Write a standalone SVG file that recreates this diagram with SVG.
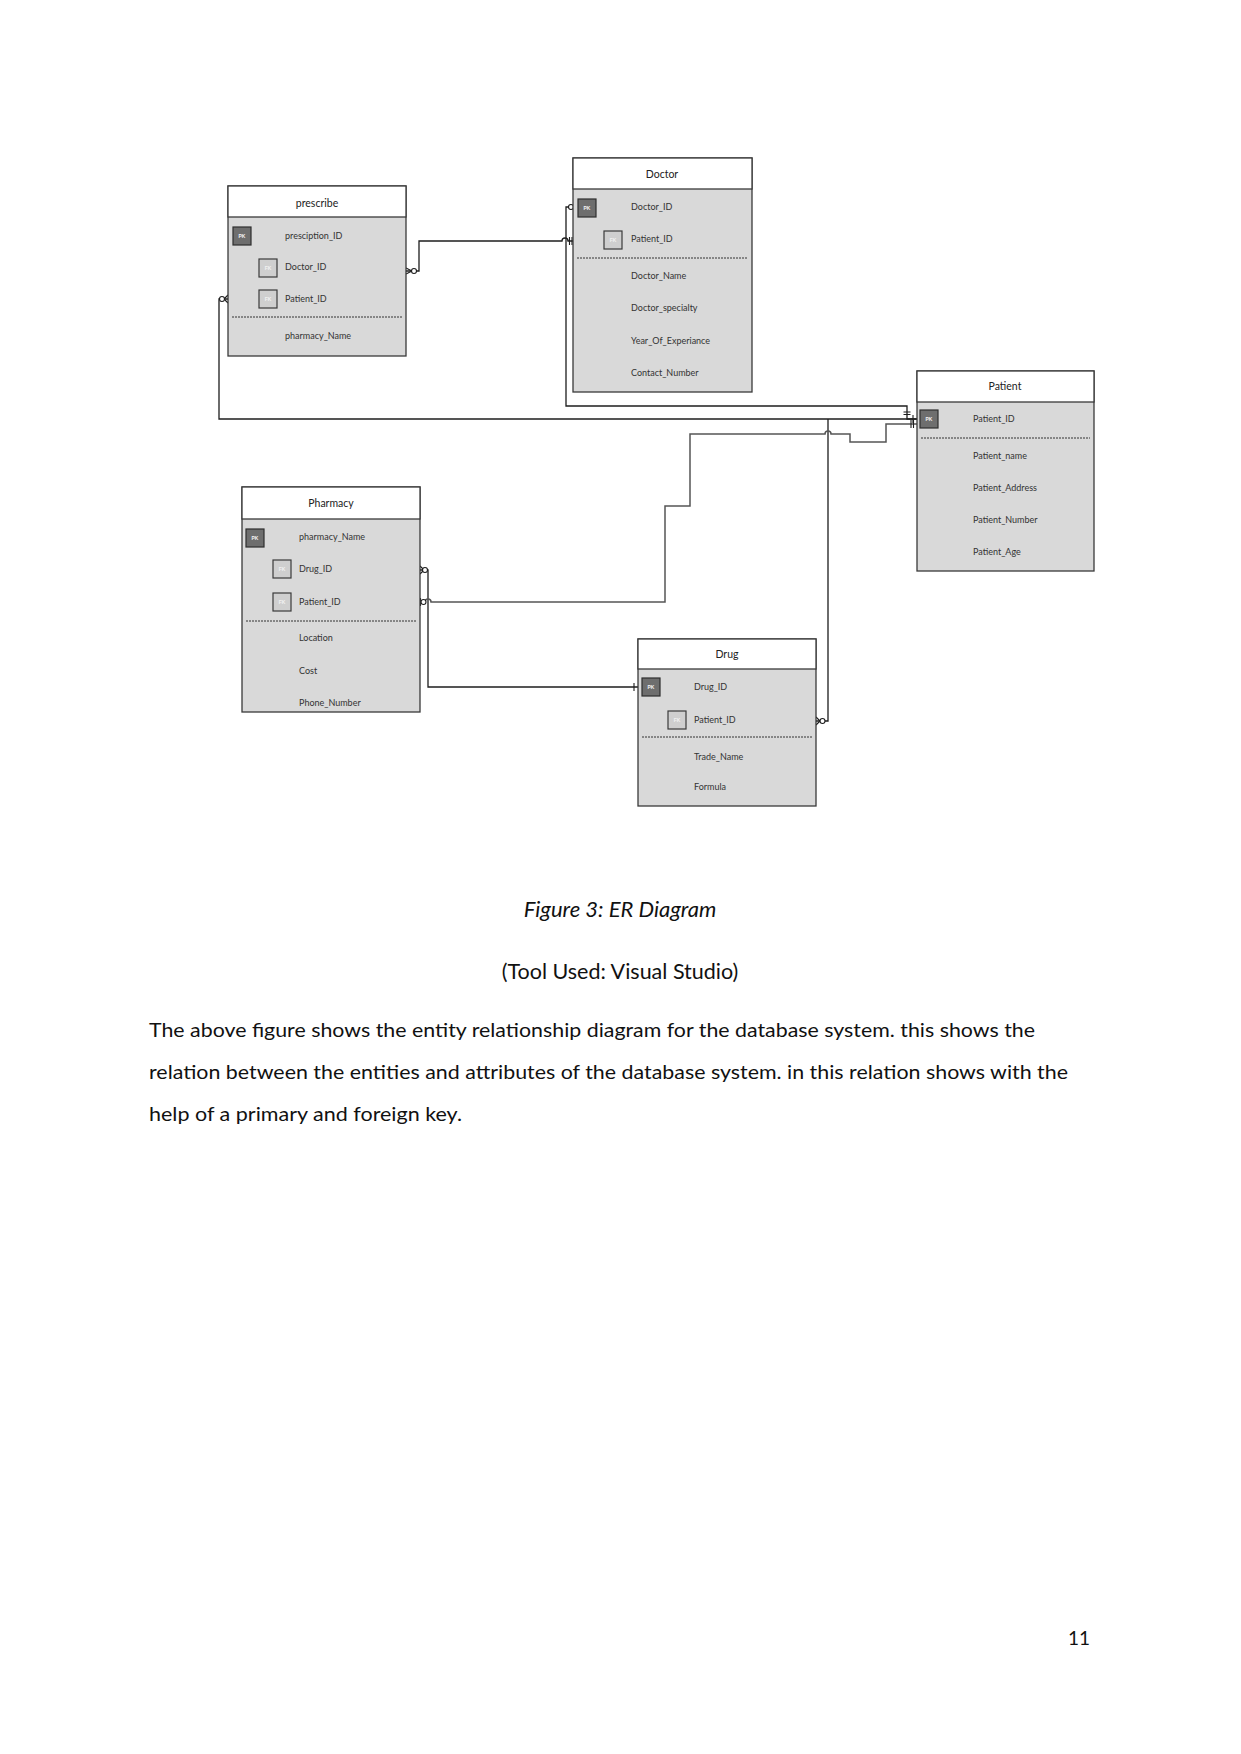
<svg xmlns="http://www.w3.org/2000/svg" width="1241" height="1754" viewBox="0 0 1241 1754">
<style>
.body{fill:#d9d9d9;stroke:#3a3a3a;stroke-width:1.3}
.head{fill:#ffffff;stroke:#3a3a3a;stroke-width:1.3}
.title{font-family:Lato,"Liberation Sans",sans-serif;font-size:10.5px;fill:#222;text-anchor:middle}
.attr{font-family:Lato,"Liberation Sans",sans-serif;font-size:9px;fill:#333}
.pk{fill:#6e6e6e;stroke:#2e2e2e;stroke-width:1.2}
.fk{fill:#cfcfcf;stroke:#3a3a3a;stroke-width:1.2}
.ic{font-family:"Liberation Sans",sans-serif;font-size:5px;fill:#f2f2f2;text-anchor:middle;font-weight:bold}
.dash{stroke:#333;stroke-width:1;stroke-dasharray:2,1}
.ln{fill:none;stroke:#1e1e1e;stroke-width:1.3}
.lg{fill:none;stroke:#555;stroke-width:1.5}
.mk{fill:none;stroke:#1e1e1e;stroke-width:1.1}
.circ{fill:#fff;stroke:#1e1e1e;stroke-width:1.1}
.txt{font-family:Lato,"Liberation Sans",sans-serif;fill:#111}
</style>
<rect width="1241" height="1754" fill="#fff"/>

<g id="connectors">
  <!-- prescribe.Doctor_ID -> Doctor.Patient_ID -->
  <path class="ln" d="M406,271 H419 V241 H562 A3,3 0 0 1 568,241 H573"/>
  <path class="mk" d="M412,271 L406,268 M412,271 L406,274"/>
  <circle class="circ" cx="414" cy="271" r="2.5"/>
  <path class="mk" d="M569.5,237 V245 M572,237 V245"/>
  <!-- Doctor.Doctor_ID -> Patient.Patient_ID -->
  <path class="ln" d="M578,207 H566 V406 H907 V419 H917"/>
  <circle class="circ" cx="571" cy="207" r="2.5"/>
  <path class="mk" d="M903.5,412 H910.5 M903.5,414.5 H910.5"/>
  <!-- prescribe.Patient_ID -> Patient -->
  <path class="ln" d="M228,299 H219 V419 H917"/>
  <path class="mk" d="M224,299 L228,295 M224,299 L228,303"/>
  <circle class="circ" cx="222" cy="299" r="2.5"/>
  <path class="mk" d="M913,415 V423"/>
  <!-- Drug.Patient_ID -> Patient -->
  <path class="ln" d="M816,721 H828 V419"/>
  <path class="mk" d="M820,721 L816,717 M820,721 L816,725"/>
  <circle class="circ" cx="822.5" cy="721" r="2.5"/>
  <!-- Pharmacy.Drug_ID -> Drug.Drug_ID -->
  <path class="ln" d="M420,570 H428 V687 H638"/>
  <path class="mk" d="M424,570 L420,566 M424,570 L420,574"/>
  <circle class="circ" cx="425" cy="570" r="2.5"/>
  <path class="mk" d="M634,683 V691"/>
  <!-- Pharmacy.Patient_ID -> Patient -->
  <path class="lg" d="M420,602 H425 A3,3 0 0 1 431,602 H665 V506 H690 V434 H825 A3,3 0 0 1 831,434 H850 V442 H886 V424 H917"/>
  <path class="mk" d="M420.5,598 V606"/>
  <circle class="circ" cx="423.5" cy="602" r="2.5"/>
  <path class="mk" d="M911,420 V428 M913.5,420 V428"/>
</g>

<g id="prescribe">
  <rect class="body" x="228" y="186" width="178" height="170"/>
  <rect class="head" x="228" y="186" width="178" height="31"/>
  <text class="title" x="317" y="207">prescribe</text>
  <rect class="pk" x="233" y="227" width="18" height="18"/><text class="ic" x="242" y="238">PK</text>
  <text class="attr" x="285" y="239">presciption_ID</text>
  <rect class="fk" x="259" y="259" width="18" height="18"/><text class="ic" x="268" y="270">FK</text>
  <text class="attr" x="285" y="270">Doctor_ID</text>
  <rect class="fk" x="259" y="290" width="18" height="18"/><text class="ic" x="268" y="301">FK</text>
  <text class="attr" x="285" y="302">Patient_ID</text>
  <line class="dash" x1="232" y1="317" x2="402" y2="317"/>
  <text class="attr" x="285" y="339">pharmacy_Name</text>
</g>

<g id="doctor">
  <rect class="body" x="573" y="158" width="179" height="234"/>
  <rect class="head" x="573" y="158" width="179" height="31"/>
  <text class="title" x="662" y="178">Doctor</text>
  <rect class="pk" x="578" y="199" width="18" height="18"/><text class="ic" x="587" y="210">PK</text>
  <text class="attr" x="631" y="210">Doctor_ID</text>
  <rect class="fk" x="604" y="231" width="18" height="18"/><text class="ic" x="613" y="242">FK</text>
  <text class="attr" x="631" y="242">Patient_ID</text>
  <line class="dash" x1="577" y1="258" x2="748" y2="258"/>
  <text class="attr" x="631" y="279">Doctor_Name</text>
  <text class="attr" x="631" y="311">Doctor_specialty</text>
  <text class="attr" x="631" y="344">Year_Of_Experiance</text>
  <text class="attr" x="631" y="376">Contact_Number</text>
</g>

<g id="patient">
  <rect class="body" x="917" y="371" width="177" height="200"/>
  <rect class="head" x="917" y="371" width="177" height="31"/>
  <text class="title" x="1005" y="390">Patient</text>
  <rect class="pk" x="920" y="410" width="18" height="18"/><text class="ic" x="929" y="421">PK</text>
  <text class="attr" x="973" y="422">Patient_ID</text>
  <line class="dash" x1="921" y1="438" x2="1090" y2="438"/>
  <text class="attr" x="973" y="459">Patient_name</text>
  <text class="attr" x="973" y="491">Patient_Address</text>
  <text class="attr" x="973" y="523">Patient_Number</text>
  <text class="attr" x="973" y="555">Patient_Age</text>
</g>

<g id="pharmacy">
  <rect class="body" x="242" y="487" width="178" height="225"/>
  <rect class="head" x="242" y="487" width="178" height="32"/>
  <text class="title" x="331" y="507">Pharmacy</text>
  <rect class="pk" x="246" y="529" width="18" height="18"/><text class="ic" x="255" y="540">PK</text>
  <text class="attr" x="299" y="540">pharmacy_Name</text>
  <rect class="fk" x="273" y="560" width="18" height="18"/><text class="ic" x="282" y="571">FK</text>
  <text class="attr" x="299" y="572">Drug_ID</text>
  <rect class="fk" x="273" y="593" width="18" height="18"/><text class="ic" x="282" y="604">FK</text>
  <text class="attr" x="299" y="605">Patient_ID</text>
  <line class="dash" x1="246" y1="621" x2="416" y2="621"/>
  <text class="attr" x="299" y="641">Location</text>
  <text class="attr" x="299" y="674">Cost</text>
  <text class="attr" x="299" y="706">Phone_Number</text>
</g>

<g id="drug">
  <rect class="body" x="638" y="639" width="178" height="167"/>
  <rect class="head" x="638" y="639" width="178" height="30"/>
  <text class="title" x="727" y="658">Drug</text>
  <rect class="pk" x="642" y="678" width="18" height="18"/><text class="ic" x="651" y="689">PK</text>
  <text class="attr" x="694" y="690">Drug_ID</text>
  <rect class="fk" x="668" y="711" width="18" height="18"/><text class="ic" x="677" y="722">FK</text>
  <text class="attr" x="694" y="723">Patient_ID</text>
  <line class="dash" x1="642" y1="737" x2="812" y2="737"/>
  <text class="attr" x="694" y="760">Trade_Name</text>
  <text class="attr" x="694" y="790">Formula</text>
</g>

<g id="page-text">
  <text class="txt" x="620" y="917" font-size="22" font-style="italic" text-anchor="middle">Figure 3: ER Diagram</text>
  <text class="txt" x="620" y="979" font-size="21.5" text-anchor="middle">(Tool Used: Visual Studio)</text>
  <text class="txt" x="149" y="1037" font-size="19" textLength="886" lengthAdjust="spacingAndGlyphs">The above figure shows the entity relationship diagram for the database system. this shows the</text>
  <text class="txt" x="149" y="1079" font-size="19" textLength="919" lengthAdjust="spacingAndGlyphs">relation between the entities and attributes of the database system. in this relation shows with the</text>
  <text class="txt" x="149" y="1121" font-size="19" textLength="313" lengthAdjust="spacingAndGlyphs">help of a primary and foreign key.</text>
  <text class="txt" x="1090" y="1645" font-size="19" text-anchor="end">11</text>
</g>
</svg>
